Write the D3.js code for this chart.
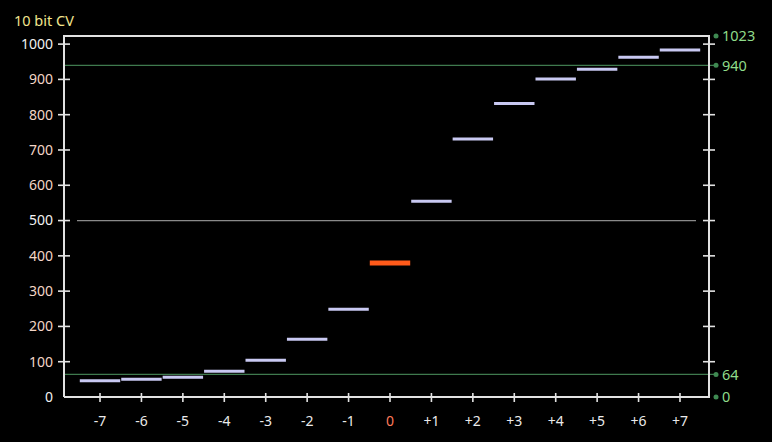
<!DOCTYPE html>
<html><head><meta charset="utf-8">
<script src="https://cdn.jsdelivr.net/npm/d3@7"></script>
<style>html,body{margin:0;padding:0;background:#000;}svg{display:block;}</style>
</head><body>
<script>
const categories = ["-7","-6","-5","-4","-3","-2","-1","0","+1","+2","+3","+4","+5","+6","+7"];
const values = [46, 50, 56, 73, 104, 164, 249, 380, 555, 731, 832, 901, 929, 963, 983];
const leftTicks = [0,100,200,300,400,500,600,700,800,900,1000];
const rightRefs = [0, 64, 940, 1023];
const greenLines = [64, 940];
const midLine = [500];

const W = 772, H = 442;
const svg = d3.select("body").append("svg").attr("width", W).attr("height", H)
  .style("font-family", "'Noto Sans', 'DejaVu Sans', sans-serif");
svg.append("rect").attr("width", W).attr("height", H).attr("fill", "#000");

const x0 = 64, x1 = 709, yTop = 36, yBot = 397;
const y = d3.scaleLinear().domain([0, 1023]).range([yBot, yTop]);
const x = d3.scaleBand().domain(categories).range([79.3, 700.7]).padding(0);

// reference lines
svg.selectAll(".gl").data(greenLines).enter().append("line")
  .attr("x1", x0).attr("x2", 716).attr("y1", d => y(d)).attr("y2", d => y(d))
  .attr("stroke", "#3f7a4e").attr("stroke-width", 1.2);
svg.selectAll(".ml").data(midLine).enter().append("line")
  .attr("x1", 77).attr("x2", 696).attr("y1", d => y(d)).attr("y2", d => y(d))
  .attr("stroke", "#8a8a8a").attr("stroke-width", 1.2);

// frame
const axisCol = "#e2e2e2";
svg.append("path").attr("d", `M${x0},${yBot} L${x0},${yTop} L${x1},${yTop} L${x1},${yBot} L${x0},${yBot}`)
  .attr("fill", "none").attr("stroke", axisCol).attr("stroke-width", 2);

// y ticks
svg.selectAll(".lt").data(leftTicks.filter(d => d > 0)).enter().append("line")
  .attr("x1", x0 - 6).attr("x2", x0 + 6).attr("y1", d => y(d)).attr("y2", d => y(d))
  .attr("stroke", axisCol).attr("stroke-width", 1.6);
svg.selectAll(".rt").data(leftTicks.filter(d => d > 0)).enter().append("line")
  .attr("x1", x1 - 6).attr("x2", x1 + 6).attr("y1", d => y(d)).attr("y2", d => y(d))
  .attr("stroke", axisCol).attr("stroke-width", 1.6);
svg.selectAll(".ltl").data(leftTicks).enter().append("text")
  .attr("x", 53).attr("y", d => y(d)).attr("dy", "0.35em").attr("text-anchor", "end")
  .attr("font-size", 14)
  .attr("fill", d => (d === 0 || d === 500 || d === 1000) ? "#f2f2f2" : "#f3d6c6")
  .text(d => d);

// x ticks
svg.selectAll(".xt").data(categories).enter().append("line")
  .attr("x1", d => x(d) + x.bandwidth()/2).attr("x2", d => x(d) + x.bandwidth()/2)
  .attr("y1", yBot - 4).attr("y2", yBot + 5)
  .attr("stroke", axisCol).attr("stroke-width", 1.6);
svg.selectAll(".xl").data(categories).enter().append("text")
  .attr("x", d => x(d) + x.bandwidth()/2).attr("y", 421).attr("dy", "0.35em")
  .attr("text-anchor", "middle").attr("font-size", 14)
  .attr("fill", d => d === "0" ? "#ff7a5a" : "#eaeaea")
  .text(d => d);

// right reference markers
svg.selectAll(".rd").data(rightRefs).enter().append("circle")
  .attr("cx", 716).attr("cy", d => y(d)).attr("r", 2.5).attr("fill", "#3f8a52");
svg.selectAll(".rl").data(rightRefs).enter().append("text")
  .attr("x", 722).attr("y", d => y(d)).attr("dy", "0.36em")
  .attr("font-size", 14.5).attr("fill", "#8fdc8a")
  .text(d => d);

// title
svg.append("text").attr("x", 14).attr("y", 21).attr("dy", "0.35em")
  .attr("font-size", 14.5).attr("fill", "#f2e58e").text("10 bit CV");

// steps
const data = categories.map((c, i) => ({c, v: values[i]}));
svg.selectAll(".st").data(data.filter(d => d.c !== "0")).enter().append("line")
  .attr("x1", d => x(d.c) + 0.5).attr("x2", d => x(d.c) + x.bandwidth() - 0.5)
  .attr("y1", d => y(d.v)).attr("y2", d => y(d.v))
  .attr("stroke", "#c9c9f2").attr("stroke-width", 3);
svg.selectAll(".st0").data(data.filter(d => d.c === "0")).enter().append("line")
  .attr("x1", d => x(d.c) + 0.5).attr("x2", d => x(d.c) + x.bandwidth() - 0.5)
  .attr("y1", d => y(d.v)).attr("y2", d => y(d.v))
  .attr("stroke", "#ff5a1a").attr("stroke-width", 5);
</script>
</body></html>
